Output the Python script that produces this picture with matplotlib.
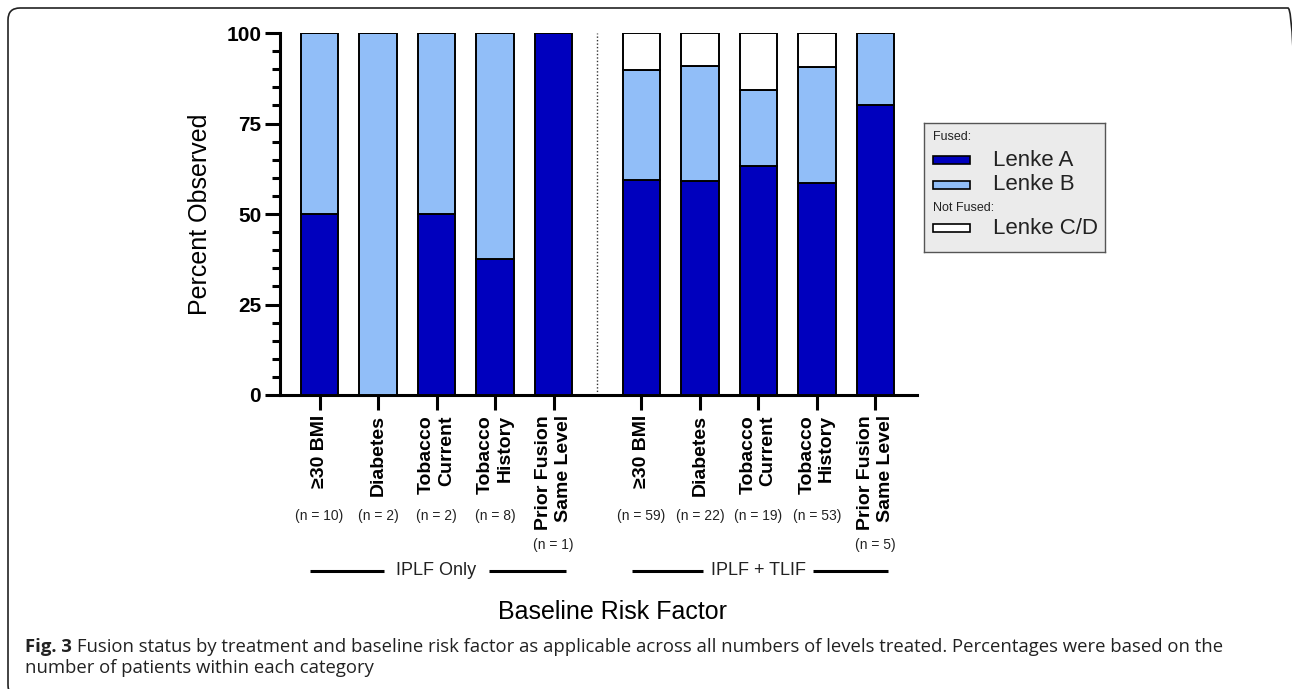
import numpy as np
import matplotlib
matplotlib.use('Agg')
import matplotlib.pyplot as plt
from matplotlib.patches import Rectangle, FancyBboxPatch
from matplotlib.ticker import MultipleLocator
from matplotlib.transforms import IdentityTransform, blended_transform_factory

categories = ['\u226530 BMI', 'Diabetes', 'Tobacco\nCurrent', 'Tobacco\nHistory', 'Prior Fusion\nSame Level']
groups = ['IPLF Only', 'IPLF + TLIF']

iplf_n = [10, 2, 2, 8, 1]
iplf_lenke_a = [50.0, 0.0, 50.0, 37.5, 100.0]
iplf_lenke_b = [50.0, 100.0, 50.0, 62.5, 0.0]
iplf_lenke_cd = [0.0, 0.0, 0.0, 0.0, 0.0]

tlif_n = [59, 22, 19, 53, 5]
tlif_lenke_a = [59.3, 59.1, 63.2, 58.5, 80.0]
tlif_lenke_b = [30.5, 31.8, 21.0, 32.1, 20.0]
tlif_lenke_cd = [10.2, 9.1, 15.8, 9.4, 0.0]

dark_blue = '#0000BE'
light_blue = '#91BEF8'

plt.rcParams['font.family'] = ['Liberation Sans', 'DejaVu Sans']

fig = plt.figure(figsize=(12.92, 6.89), dpi=100)
ax = fig.add_axes([280 / 1292, 1 - 395 / 689, (917 - 280) / 1292, (395 - 33) / 689])

left_pos = np.arange(len(categories))
right_pos = left_pos + len(categories) + 0.5
w = 0.64
edge = dict(edgecolor='black', linewidth=1.4)

for pos, a, b, cd in [(left_pos, iplf_lenke_a, iplf_lenke_b, iplf_lenke_cd),
                      (right_pos, tlif_lenke_a, tlif_lenke_b, tlif_lenke_cd)]:
    a = np.array(a)
    b = np.array(b)
    ax.bar(pos, a, w, color=dark_blue, **edge, zorder=3)
    ax.bar(pos, b, w, bottom=a, color=light_blue, **edge, zorder=3)
    ax.bar(pos, cd, w, bottom=a + b, color='white', **edge, zorder=3)

ax.axvline((left_pos[-1] + right_pos[0]) / 2, color='#333333', ls=(0, (1, 1.5)), lw=1.0)

ax.set_xlim(-0.675, 10.21)
ax.set_ylim(0, 100)
ax.spines['top'].set_visible(False)
ax.spines['right'].set_visible(False)
ax.spines['left'].set_linewidth(2.2)
ax.spines['bottom'].set_linewidth(2.2)
ax.set_yticks([0, 25, 50, 75, 100])
ax.yaxis.set_minor_locator(MultipleLocator(5))
ax.tick_params(axis='y', which='major', length=10.5, width=2.2, pad=3, labelsize=15)
ax.tick_params(axis='y', which='minor', length=6, width=2.2)
ax.tick_params(axis='x', which='major', length=10.5, width=2.2, pad=4)
for t in ax.get_yticklabels():
    t.set_fontweight('bold')

all_pos = np.concatenate([left_pos, right_pos])
ax.set_xticks(all_pos)
ax.set_xticklabels(categories * 2, rotation=90, ha='center', va='top',
                   multialignment='right', fontsize=14, fontweight='bold')

ax.set_ylabel('Percent Observed', fontsize=18, labelpad=10)

trans = blended_transform_factory(ax.transData, ax.transAxes)

# n labels sit on a common row, dropped to a second row under long labels
fig.canvas.draw()
renderer = fig.canvas.get_renderer()
all_n = iplf_n + tlif_n
for x, n, lbl in zip(all_pos, all_n, ax.get_xticklabels()):
    bottom = 689 - lbl.get_window_extent(renderer).y0
    row = 516 if bottom + 12 < 516 else 545
    y_ax = ax.transAxes.inverted().transform((0, 689 - row))[1]
    ax.text(x, y_ax, f'(n = {n})', transform=trans, ha='center', va='center',
            fontsize=10, color='#222222')

line_y = -0.486
for pos, name, half in [(left_pos, groups[0], 0.9), (right_pos, groups[1], 0.94)]:
    c = pos.mean()
    ax.plot([pos[0] - 0.16, c - half], [line_y, line_y], color='black', lw=2.2,
            transform=trans, clip_on=False, solid_capstyle='butt')
    ax.plot([c + half, pos[-1] + 0.21], [line_y, line_y], color='black', lw=2.2,
            transform=trans, clip_on=False, solid_capstyle='butt')
    ax.text(c, line_y, name, transform=trans, ha='center', va='center',
            fontsize=13, color='#222222')

ax.text(5.0, -0.6, 'Baseline Risk Factor', transform=trans, ha='center', va='center',
        fontsize=18)

# legend box
lax = fig.add_axes([924 / 1292, 1 - 252 / 689, (1105 - 924) / 1292, (252 - 123) / 689])
lax.set_facecolor('#ebebeb')
lax.set_xlim(0, 181)
lax.set_ylim(129, 0)
lax.set_xticks([])
lax.set_yticks([])
for s in lax.spines.values():
    s.set_color('#555555')
    s.set_linewidth(1.0)
lax.text(9, 14, 'Fused:', fontsize=9, va='center', color='#222222')
for y, col, lab in [(37, dark_blue, 'Lenke A'), (62, light_blue, 'Lenke B'), (105, 'white', 'Lenke C/D')]:
    lax.add_patch(Rectangle((9, y - 4), 37, 8, facecolor=col, edgecolor='black', lw=1.2))
    lax.text(69, y, lab, fontsize=16, va='center', color='#222222')
lax.text(9, 85, 'Not Fused:', fontsize=9, va='center', color='#222222')

# frame
frame = FancyBboxPatch((8, -8), 1292, 689, boxstyle='round,pad=0,rounding_size=12',
                       facecolor='none', edgecolor='#222222', lw=1.2,
                       transform=IdentityTransform())
fig.add_artist(frame)

# caption
cap_font = ['Open Sans', 'DejaVu Sans']
t1 = fig.text(25, 689 - 652, 'Fig. 3', transform=IdentityTransform(), fontsize=13.3,
              fontweight='bold', family=cap_font, va='baseline', color='#222222')
fig.canvas.draw()
x_end = t1.get_window_extent(renderer).x1
fig.text(x_end + 5, 689 - 652,
         'Fusion status by treatment and baseline risk factor as applicable across all numbers '
         'of levels treated. Percentages were based on the',
         transform=IdentityTransform(), fontsize=13.3, family=cap_font, va='baseline',
         color='#222222')
fig.text(25, 689 - 673, 'number of patients within each category', transform=IdentityTransform(),
         fontsize=13.3, family=cap_font, va='baseline', color='#222222')

fig.savefig('out.png', dpi=100)
